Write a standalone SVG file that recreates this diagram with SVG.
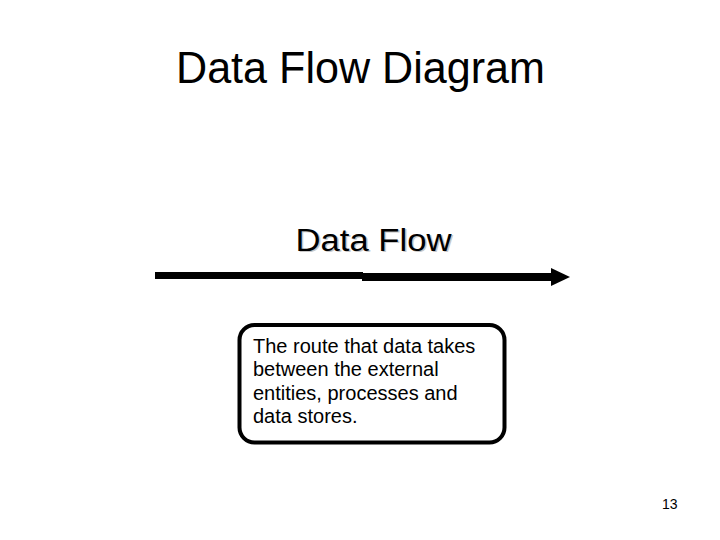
<svg xmlns="http://www.w3.org/2000/svg" width="720" height="540" viewBox="0 0 720 540">
<style>
.t{font-family:"Liberation Sans",Arial,sans-serif;fill:#000}
</style>
<defs>
<marker id="ah" markerWidth="20" markerHeight="18" refX="0" refY="9" orient="auto" markerUnits="userSpaceOnUse"><path d="M0,0 L19,9 L0,18 Z" fill="#000"/></marker>
</defs>
<rect width="720" height="540" fill="#fff"/>
<g id="title"><text class="t" x="176" y="83" font-size="44" textLength="369" lengthAdjust="spacingAndGlyphs">Data Flow Diagram</text></g>
<g id="connectors">
<path d="M155,275.5 H363" stroke="#000" stroke-width="7" fill="none"/>
<path d="M362,277 H551" stroke="#000" stroke-width="8" fill="none" marker-end="url(#ah)"/>
</g>
<g id="label">
<text class="t" x="297" y="252" font-size="31" style="fill:#c8c8c8" textLength="156" lengthAdjust="spacingAndGlyphs">Data Flow</text>
<text class="t" x="295.5" y="250.5" font-size="31" textLength="156" lengthAdjust="spacingAndGlyphs">Data Flow</text>
</g>
<g id="box">
<rect x="239.5" y="325" width="265" height="117.5" rx="15" ry="15" fill="#fff" stroke="#000" stroke-width="4"/>
<text class="t" font-size="20">
<tspan x="253" y="352.5">The route that data takes</tspan>
<tspan x="253" y="376">between the external</tspan>
<tspan x="253" y="399.5">entities, processes and</tspan>
<tspan x="253" y="423">data stores.</tspan>
</text>
</g>
<g id="page"><text class="t" x="662" y="509" font-size="14">13</text></g>
</svg>
